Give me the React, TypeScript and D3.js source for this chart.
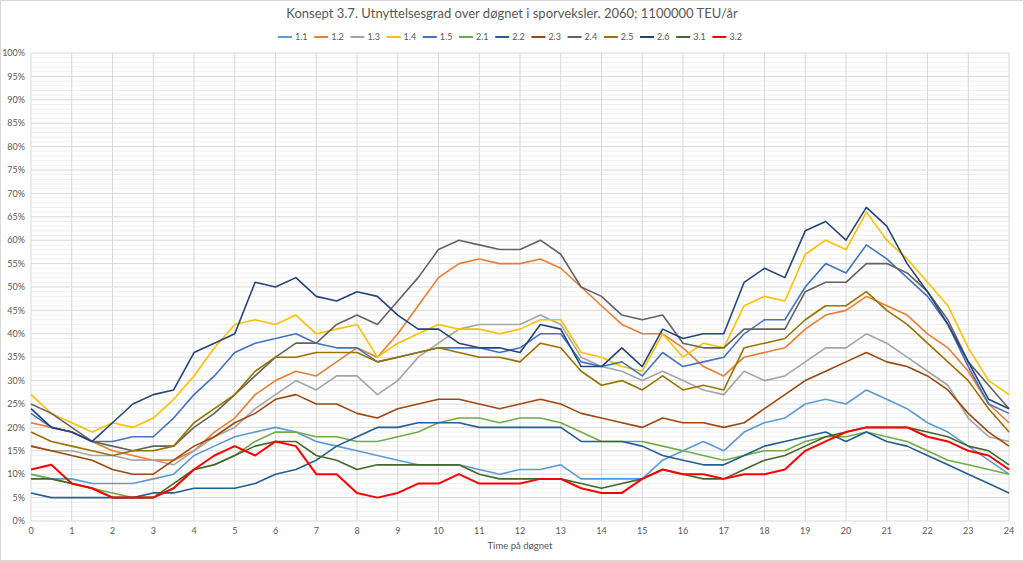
import React from 'react';
import * as d3 from 'd3';

// half-hour sampling of the day
const hours = [
  0, 0.5, 1, 1.5, 2, 2.5, 3, 3.5, 4, 4.5, 5, 5.5, 6, 6.5, 7, 7.5, 8, 8.5, 9, 9.5,
  10, 10.5, 11, 11.5, 12, 12.5, 13, 13.5, 14, 14.5, 15, 15.5, 16, 16.5, 17, 17.5,
  18, 18.5, 19, 19.5, 20, 20.5, 21, 21.5, 22, 22.5, 23, 23.5, 24,
];

const s11 = [10, 9, 9, 8, 8, 8, 9, 10, 14, 16, 18, 19, 20, 19, 17, 16, 15, 14, 13, 12, 12, 12, 11, 10, 11, 11, 12, 9, 9, 9, 9, 13, 15, 17, 15, 19, 21, 22, 25, 26, 25, 28, 26, 24, 21, 19, 16, 13, 10];
const s12 = [21, 20, 19, 17, 15, 14, 13, 13, 15, 19, 22, 27, 30, 32, 31, 34, 37, 35, 40, 46, 52, 55, 56, 55, 55, 56, 54, 50, 46, 42, 40, 40, 37, 33, 31, 35, 36, 37, 41, 44, 45, 48, 46, 44, 40, 37, 32, 25, 21];
const s13 = [16, 15, 15, 14, 14, 13, 13, 12, 15, 18, 20, 24, 27, 30, 28, 31, 31, 27, 30, 35, 38, 41, 42, 42, 42, 44, 42, 35, 33, 32, 30, 32, 30, 28, 27, 32, 30, 31, 34, 37, 37, 40, 38, 35, 32, 29, 22, 18, 17];
const s14 = [27, 23, 21, 19, 21, 20, 22, 26, 31, 37, 42, 43, 42, 44, 40, 41, 42, 35, 38, 40, 42, 41, 41, 40, 41, 43, 43, 36, 35, 33, 32, 40, 35, 38, 37, 46, 48, 47, 57, 60, 58, 66, 60, 56, 51, 46, 37, 30, 27];
const s15 = [23, 20, 19, 17, 17, 18, 18, 22, 27, 31, 36, 38, 39, 40, 38, 37, 37, 34, 35, 36, 37, 37, 37, 36, 37, 40, 40, 34, 33, 34, 31, 36, 33, 34, 35, 40, 43, 43, 50, 55, 53, 59, 56, 52, 48, 42, 33, 25, 23];
const s21 = [10, 9, 8, 7, 6, 5, 5, 7, 11, 12, 14, 17, 19, 19, 18, 18, 17, 17, 18, 19, 21, 22, 22, 21, 22, 22, 21, 19, 17, 17, 17, 16, 15, 14, 13, 14, 15, 15, 17, 18, 18, 19, 18, 17, 15, 13, 12, 11, 10];
const s22 = [6, 5, 5, 5, 5, 5, 6, 6, 7, 7, 7, 8, 10, 11, 13, 16, 18, 20, 20, 21, 21, 21, 20, 20, 20, 20, 20, 17, 17, 17, 16, 14, 13, 12, 12, 14, 16, 17, 18, 19, 17, 19, 17, 16, 14, 12, 10, 8, 6];
const s23 = [16, 15, 14, 13, 11, 10, 10, 13, 16, 18, 21, 23, 26, 27, 25, 25, 23, 22, 24, 25, 26, 26, 25, 24, 25, 26, 25, 23, 22, 21, 20, 22, 21, 21, 20, 21, 24, 27, 30, 32, 34, 36, 34, 33, 31, 28, 23, 19, 16];
const s24 = [25, 23, 20, 17, 16, 15, 16, 16, 20, 23, 27, 31, 35, 38, 38, 42, 44, 42, 47, 52, 58, 60, 59, 58, 58, 60, 57, 50, 48, 44, 43, 44, 38, 37, 37, 41, 41, 41, 49, 51, 51, 55, 55, 53, 49, 43, 34, 29, 24];
const s25 = [19, 17, 16, 15, 14, 15, 15, 16, 21, 24, 27, 32, 35, 35, 36, 36, 36, 34, 35, 36, 37, 36, 35, 35, 34, 38, 37, 32, 29, 30, 28, 31, 28, 29, 28, 37, 38, 39, 43, 46, 46, 49, 45, 42, 38, 34, 30, 24, 19];
const s26 = [24, 20, 19, 17, 21, 25, 27, 28, 36, 38, 40, 51, 50, 52, 48, 47, 49, 48, 44, 41, 41, 38, 37, 37, 36, 42, 41, 33, 33, 37, 33, 41, 39, 40, 40, 51, 54, 52, 62, 64, 60, 67, 63, 55, 49, 42, 34, 26, 24];
const s31 = [9, 9, 8, 7, 5, 5, 5, 8, 11, 12, 14, 16, 17, 17, 14, 13, 11, 12, 12, 12, 12, 12, 10, 9, 9, 9, 9, 8, 7, 8, 9, 11, 10, 9, 9, 11, 13, 14, 16, 18, 19, 20, 20, 20, 19, 18, 16, 15, 12];
const s32 = [11, 12, 8, 7, 5, 5, 5, 7, 11, 14, 16, 14, 17, 16, 10, 10, 6, 5, 6, 8, 8, 10, 8, 8, 8, 9, 9, 7, 6, 6, 9, 11, 10, 10, 9, 10, 10, 11, 15, 17, 19, 20, 20, 20, 18, 17, 15, 14, 11];

const seriesNames = ['1.1', '1.2', '1.3', '1.4', '1.5', '2.1', '2.2', '2.3', '2.4', '2.5', '2.6', '3.1', '3.2'];
const seriesValues = [s11, s12, s13, s14, s15, s21, s22, s23, s24, s25, s26, s31, s32];
const seriesColors = [
  '#5B9BD5', '#ED7D31', '#A5A5A5', '#FFC000', '#4472C4', '#70AD47',
  '#255E91', '#9E480E', '#636363', '#997300', '#264478', '#43682B', '#FF0000',
];

const xTicks = [0, 1, 2, 3, 4, 5, 6, 7, 8, 9, 10, 11, 12, 13, 14, 15, 16, 17, 18, 19, 20, 21, 22, 23, 24];
const yTicks = [0, 5, 10, 15, 20, 25, 30, 35, 40, 45, 50, 55, 60, 65, 70, 75, 80, 85, 90, 95, 100];
const yMinor = d3.range(0, 101, 1);

const title = 'Konsept 3.7. Utnyttelsesgrad over døgnet i sporveksler. 2060; 1100000 TEU/år';
const xTitle = 'Time på døgnet';

const W = 1024;
const H = 561;
const font = 'Lato, "Open Sans", "Liberation Sans", sans-serif';
const textColor = '#595959';

export default function App() {
  const x = d3.scaleLinear().domain([0, 24]).range([31, 1009]);
  const y = d3.scaleLinear().domain([0, 100]).range([521, 53]);

  const line = d3.line<number>()
    .x((_, i) => x(hours[i]))
    .y(d => y(d));

  const legendX0 = 278;
  const legendStep = 36.2;

  return (
    <div style={{ position: 'fixed', left: 0, top: 0, width: W, height: H, background: '#fff' }}>
      <svg width={W} height={H} style={{ display: 'block', fontFamily: font }}>
        <rect x={0.5} y={0.5} width={W - 1} height={H - 1} fill="#fff" stroke="#D9D9D9" />

        {/* minor horizontal grid */}
        {yMinor.filter(v => v % 5 !== 0).map(v => (
          <line key={'m' + v} x1={x(0)} x2={x(24)} y1={y(v)} y2={y(v)} stroke="#F0F0F0" strokeWidth={1} />
        ))}
        {/* major horizontal grid */}
        {yTicks.map(v => (
          <line key={'g' + v} x1={x(0)} x2={x(24)} y1={y(v)} y2={y(v)} stroke="#D9D9D9" strokeWidth={1} />
        ))}
        {/* vertical grid */}
        {xTicks.map(h => (
          <line key={'v' + h} x1={x(h)} x2={x(h)} y1={y(100)} y2={y(0)} stroke="#D9D9D9" strokeWidth={1} />
        ))}

        {/* y labels */}
        {yTicks.map(v => (
          <text key={'yl' + v} x={25} y={y(v)} dy="0.35em" textAnchor="end" fontSize={9} fill={textColor}>
            {v + '%'}
          </text>
        ))}
        {/* x labels */}
        {xTicks.map(h => (
          <text key={'xl' + h} x={x(h)} y={534} textAnchor="middle" fontSize={9} fill={textColor}>
            {h}
          </text>
        ))}
        <text x={(x(0) + x(24)) / 2} y={549} textAnchor="middle" fontSize={9.5} fill={textColor}>
          {xTitle}
        </text>

        {/* series */}
        {seriesValues.map((vals, i) => (
          <path
            key={seriesNames[i]}
            d={line(vals) || ''}
            fill="none"
            stroke={seriesColors[i]}
            strokeWidth={seriesNames[i] === '3.2' ? 2 : 1.6}
            strokeLinejoin="round"
          />
        ))}

        {/* title */}
        <text x={512} y={18} textAnchor="middle" fontSize={13} fill={textColor}>
          {title}
        </text>

        {/* legend */}
        {seriesNames.map((name, i) => {
          const lx = legendX0 + i * legendStep;
          return (
            <g key={'lg' + name}>
              <line x1={lx} x2={lx + 14} y1={37} y2={37} stroke={seriesColors[i]} strokeWidth={2} />
              <text x={lx + 17} y={37} dy="0.35em" fontSize={9} fill={textColor}>
                {name}
              </text>
            </g>
          );
        })}
      </svg>
    </div>
  );
}
